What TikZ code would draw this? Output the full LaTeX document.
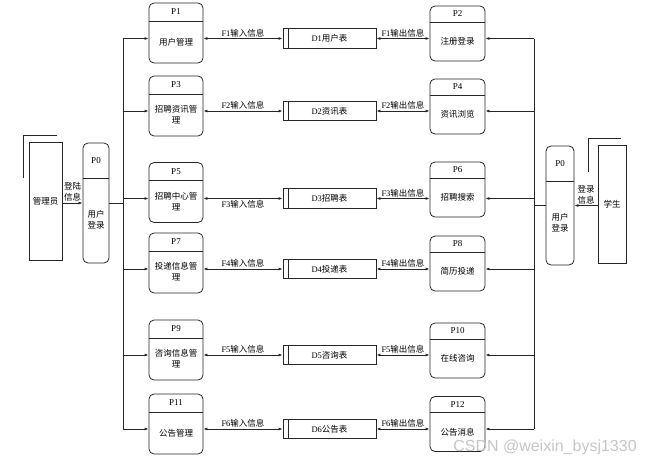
\documentclass[tikz,border=0pt]{standalone}
\usepackage{fontspec}
\setmainfont{Liberation Serif}
\newfontfamily\cjk{Noto Sans CJK SC}
\newfontfamily\wmfont{Liberation Sans}
\usepackage{tikz}
\usetikzlibrary{positioning, arrows.meta, calc}

\begin{document}
\begin{tikzpicture}[x=1pt,y=-1pt,
    every node/.style={font=\cjk\fontsize{8.5}{11}\selectfont, inner sep=1pt, align=center},
    line/.style={draw=black!85, line width=0.8pt},
    flow/.style={line, -{Latex[length=4pt,width=3pt]}},
    flowtwo/.style={line, {Latex[length=4pt,width=3pt]}-{Latex[length=4pt,width=3pt]}},
    proc/.style n args={3}{line, rounded corners=5pt, minimum width=#1, minimum height=#2,
        path picture={\draw[line] ([yshift=-#3]path picture bounding box.north west) -- ([yshift=-#3]path picture bounding box.north east);}},
    head/.style={font=\rmfamily\fontsize{9}{10}\selectfont},
    store/.style={line, minimum width=93pt, minimum height=19.5pt,
        path picture={\draw[line] ([xshift=5pt]path picture bounding box.north west) -- ([xshift=5pt]path picture bounding box.south west);}},
    ent/.style={line, minimum width=#1, minimum height=118pt}]
    \useasboundingbox (0,0) rectangle (653,458);
    % buses
    \coordinate (lbus) at (123,0);
    \coordinate (rbus) at (534,0);

    % external entities and login
    \node[ent=33pt] (adm) at (45.5,201) {管理员};
    \draw[line] ($(adm.north west)+(-5,36)$) -- ++(0,-42) -- ++(33,0);
    \node[proc={26pt}{120pt}{35pt}] (lp0) at (96,203) {};
    \node[head] (lp0h) at ([yshift=-17.5pt]lp0.north) {P0};
    \node (lp0b) at ([yshift=-17pt]lp0.center) {用户\\登录};
    \draw[flow] (lp0.west -| adm.east) to node[above] (admf) {登陆\\信息} (lp0.west);
    \draw[line] (lp0.east) -- (lbus |- lp0.east);

    \node[ent=28pt] (stu) at (612,204.5) {学生};
    \draw[line] ($(stu.north west)+(-9,27)$) -- ++(0,-34) -- ++(32,0);
    \node[proc={28pt}{119pt}{35pt}] (rp0) at (560,205.5) {};
    \node[head] (rp0h) at ([yshift=-17.5pt]rp0.north) {P0};
    \node (rp0b) at ([yshift=-17pt]rp0.center) {用户\\登录};
    \draw[flow] (rp0.east -| stu.west) to node[above] (stuf) {登录\\信息} (rp0.east);
    \draw[line] (rp0.west) -- (rbus |- rp0.west);

    % rows: process - store - process
    \foreach \i/\pl/\yl/\tl/\pr/\yr/\tr/\ys/\ts/\lp in {
        1/1/33/用户管理/2/33.5/注册登录/38.5/用户表/above,
        2/3/106/{招聘资讯管\\理}/4/106.5/资讯浏览/111/资讯表/above,
        3/5/192.5/{招聘中心管\\理}/6/189.5/招聘搜索/198.5/招聘表/below,
        4/7/263/{投递信息管\\理}/8/263.5/简历投递/269/投递表/above,
        5/9/350/{咨询信息管\\理}/10/350.5/在线咨询/355/咨询表/above,
        6/11/424/公告管理/12/424/公告消息/429/公告表/above}{
        \node[proc={54pt}{60pt}{18pt}] (l\i) at (176,\yl) {};
        \node[head] (lh\i) at ([yshift=-9pt]l\i.north) {P\pl};
        \node (lb\i) at ([yshift=-9pt]l\i.center) {\tl};
        \node[proc={55pt}{55pt}{16pt}] (r\i) at (457.5,\yr) {};
        \node[head] (rh\i) at ([yshift=-8pt]r\i.north) {P\pr};
        \node (rb\i) at ([yshift=-8pt]r\i.center) {\tr};
        \node[store] (s\i) at (329.5,\ys) {\textrm{D\i}\ts};
        \draw[flowtwo] (l\i.east |- s\i) to node[\lp] (fl\i) {\textrm{F\i}输入信息} (s\i);
        \draw[flowtwo] (s\i) to node[above] (fr\i) {\textrm{F\i}输出信息} (r\i.west |- s\i);
        \draw[flow] (lbus |- s\i) -- (l\i.west |- s\i);
        \draw[flow] (rbus |- s\i) -- (r\i.east |- s\i);
    }
    \draw[line] (lbus |- s1) -- (lbus |- s6);
    \draw[line] (rbus |- s1) -- (rbus |- s6);

    \node[font=\wmfont\fontsize{16}{16}\selectfont, text=gray!45] (wm) at (545,447) {CSDN @weixin\_bysj1330};
\end{tikzpicture}
\end{document}
